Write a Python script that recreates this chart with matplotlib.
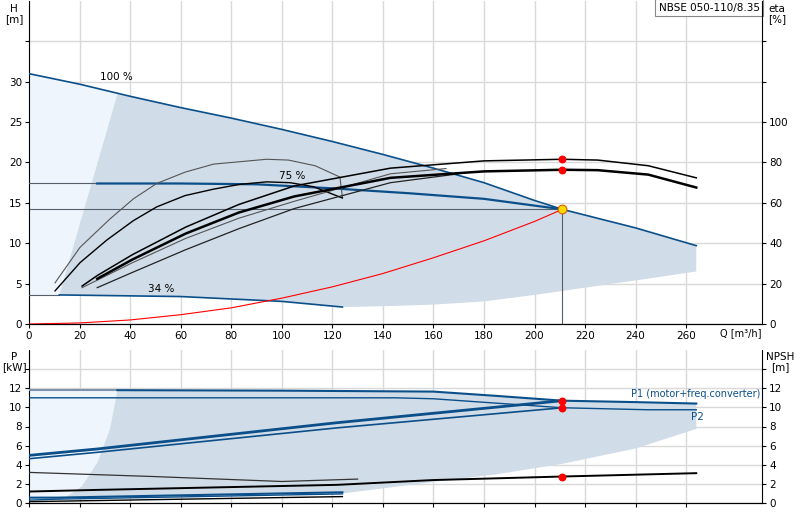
import matplotlib
matplotlib.use("Agg")
import matplotlib.pyplot as plt

plt.rcParams['font.family'] = ['DejaVu Sans']
plt.rcParams['font.size'] = 7.5

BLUE = "#0b4f8a"
DARK_FILL = "#d0dce7"
LIGHT_FILL = "#eef5fc"
GRID = "#d9d9d9"

# ---- head curves (Q [m3/h], H [m]) ----
h100_q = [0, 20, 40, 60, 80, 100, 120, 140, 160, 180, 200, 211, 240, 264]
h100_h = [31, 29.7, 28.2, 26.8, 25.5, 24.1, 22.6, 21.0, 19.3, 17.5, 15.3, 14.2, 11.9, 9.7]
h75_q = [27, 60, 90, 120, 150, 180, 211]
h75_h = [17.4, 17.4, 17.3, 16.8, 16.2, 15.5, 14.2]
h34_q = [12, 60, 100, 124]
h34_h = [3.6, 3.4, 2.8, 2.1]
sys_q = [0, 20, 40, 60, 80, 100, 120, 140, 160, 180, 200, 211]
sys_h = [0, 0.13, 0.5, 1.15, 2.0, 3.2, 4.6, 6.25, 8.2, 10.3, 12.7, 14.2]
low_q = [124, 140, 160, 180, 200, 220, 240, 264]
low_h = [2.1, 2.2, 2.4, 2.8, 3.6, 4.5, 5.4, 6.5]
edge_q = [12, 35]
edge_h = [3.6, 28.5]
duty_q, duty_h = 211, 14.2

# ---- efficiency curves (Q, eta [%]) ----
eta_a_q = [21, 27, 41, 62, 83, 105, 143, 180, 211, 225, 245, 264]
eta_a = [18.8, 24, 34.4, 48, 59.2, 68.4, 77.2, 80.8, 81.6, 81.2, 78.4, 72.4]
eta_b_q = [27, 41, 62, 83, 105, 143, 180, 211, 225, 245, 264]
eta_b = [22.4, 32, 44.8, 55.2, 63.2, 72.4, 75.6, 76.4, 76.2, 74, 67.6]
eta_c_q = [21, 41, 62, 83, 105, 143, 165]
eta_c = [18, 30.4, 42.4, 52.4, 60.8, 74.4, 77]
eta_d_q = [27, 41, 62, 83, 105, 143, 170]
eta_d = [18, 25.6, 36.8, 47.2, 57.2, 70, 74.4]
eta75_q = [10.3, 20.2, 30.8, 41.3, 50.5, 61.7, 73, 83.5, 94, 103.3, 112.6, 124]
eta75 = [16.4, 30.4, 41.6, 51.2, 58, 63.6, 66.8, 69.2, 70.4, 70, 68, 62.4]
eta75b_q = [10.3, 20.2, 32, 41.3, 50.5, 61.7, 73, 83.5, 94, 102.7, 113.2, 123, 124]
eta75b = [20.4, 38, 52, 62, 69.6, 75.2, 79.2, 80.4, 81.6, 81.2, 78.4, 72.8, 62.8]
eta_duty = [81.6, 76.4]

# ---- power / NPSH (Q, P [kW] or NPSH [m]) ----
p1max_q = [35, 100, 160, 185, 211, 240, 264]
p1max = [11.8, 11.75, 11.65, 11.2, 10.7, 10.55, 10.4]
p2max_q = [0, 100, 145, 160, 211, 245, 264]
p2max = [11.0, 11.0, 11.0, 10.9, 9.96, 9.75, 9.75]
p1op_q = [0, 27, 122, 211]
p1op = [4.98, 5.65, 8.4, 10.7]
p2op_q = [0, 27, 122, 211]
p2op = [4.63, 5.3, 7.86, 9.96]
npsh_q = [0, 27, 122, 160, 211, 264]
npsh = [1.2, 1.37, 1.9, 2.4, 2.77, 3.12]
npsh_top_q = [0, 49, 100, 130]
npsh_top = [3.2, 2.77, 2.25, 2.5]
p1_34_q = [0, 11, 124]
p1_34 = [0.56, 0.56, 1.12]
p2_34_q = [0, 11, 124]
p2_34 = [0.3, 0.4, 0.95]
npsh34_q = [0, 124]
npsh34 = [0.14, 0.67]
pedge_q = [12.7, 20.8, 27, 32, 35]
pedge = [0.3, 1.7, 4.2, 7.7, 11.8]
plow_q = [124, 160, 185, 211, 240, 264]
plow = [1.0, 2.2, 3.0, 4.1, 5.7, 7.75]
p_duty = [10.7, 9.96, 2.77]

W, H = 800, 520
fig = plt.figure(figsize=(8, 5.2), dpi=100)
ax = fig.add_axes([29 / W, 1 - 324 / H, (762 - 29) / W, 323 / H])
axe = ax.twinx()
bx = fig.add_axes([29 / W, 1 - 503 / H, (762 - 29) / W, (503 - 350) / H])
bxn = bx.twinx()

for a in (ax, bx):
    a.set_xlim(0, 290)
    a.set_xticks(range(0, 280, 20))
    a.grid(True, color=GRID, lw=1)
    a.set_axisbelow(True)
    for s in ("top", "right"):
        a.spines[s].set_visible(False)
    a.tick_params(length=3, pad=2)

# top panel fills
light_q = [0] + edge_q + [20, 0]
light_h = [3.6] + edge_h + [h100_h[1], h100_h[0]]
ax.fill(light_q, light_h, color=LIGHT_FILL, lw=0, zorder=1)
top_q = edge_q + [q for q in h100_q if q > 35] + low_q[::-1] + h34_q[::-1]
top_h = edge_h + [h for q, h in zip(h100_q, h100_h) if q > 35] + low_h[::-1] + h34_h[::-1]
ax.fill(top_q, top_h, color=DARK_FILL, lw=0, zorder=1)

ax.plot(h100_q, h100_h, color=BLUE, lw=1.2, zorder=3)
ax.plot([0, 27], [17.4, 17.4], color="#555f6b", lw=0.8, zorder=3)
ax.plot(h75_q, h75_h, color=BLUE, lw=1.6, zorder=3)
ax.plot([0, 12], [3.6, 3.6], color="#555f6b", lw=0.8, zorder=3)
ax.plot(h34_q, h34_h, color=BLUE, lw=1.2, zorder=3)
ax.plot([0, duty_q], [duty_h, duty_h], color="#555f6b", lw=0.8, zorder=2)
ax.plot([duty_q, duty_q], [0, duty_h], color="#555f6b", lw=0.8, zorder=2)
ax.plot(sys_q, sys_h, color="red", lw=0.8, zorder=3)
ax.scatter([duty_q], [duty_h], s=40, color="#ffd800", edgecolor="#e06000", lw=0.8, zorder=6)

ax.set_ylim(0, 40)
ax.set_yticks(range(0, 40, 5))
ax.set_yticklabels([str(v) for v in range(0, 35, 5)] + [""])
ax.text(28, 30.2, "100 %", fontsize=7.5)
ax.text(99, 17.9, "75 %", fontsize=7.5)
ax.text(47, 4.0, "34 %", fontsize=7.5)

axe.set_ylim(0, 160)
axe.set_yticks(range(0, 160, 20))
axe.set_yticklabels([str(v) for v in range(0, 120, 20)] + ["", ""])
axe.tick_params(length=3, pad=2)
for s in ("top", "left"):
    axe.spines[s].set_visible(False)
axe.plot(eta75b_q, eta75b, color="#555555", lw=0.8, zorder=4)
axe.plot(eta75_q, eta75, color="black", lw=1.0, zorder=4)
axe.plot(eta_c_q, eta_c, color="#555555", lw=0.8, zorder=4)
axe.plot(eta_d_q, eta_d, color="#222222", lw=0.9, zorder=4)
axe.plot(eta_a_q, eta_a, color="black", lw=1.1, zorder=4)
axe.plot(eta_b_q, eta_b, color="black", lw=1.8, zorder=4)
axe.scatter([duty_q, duty_q], eta_duty, s=22, color="red", zorder=6)

ax.set_xticklabels([str(v) for v in range(0, 280, 20)])
fig.text(720 / W, 1 - 333 / H, "Q [m³/h]", fontsize=7, va="center")
fig.text(14 / W, 1 - 14 / H, "H\n[m]", fontsize=7.5, ha="center", va="center", linespacing=1.1)
fig.text(777 / W, 1 - 14 / H, "eta\n[%]", fontsize=7.5, ha="center", va="center", linespacing=1.1)
ax.text(0.997, 0.995, "NBSE 050-110/8.35", transform=ax.transAxes, ha="right", va="top",
        fontsize=7.5, bbox=dict(boxstyle="square,pad=0.35", fc="white", ec="#888888", lw=0.8), zorder=10)

# bottom panel
bx.fill([0] + pedge_q + [0], [0.3] + pedge + [11.8], color=LIGHT_FILL, lw=0, zorder=1)
bq = pedge_q + p1max_q[1:] + plow_q[::-1] + [11]
bp = pedge + p1max[1:] + plow[::-1] + [0.56]
bx.fill(bq, bp, color=DARK_FILL, lw=0, zorder=1)
bx.plot([0, 35], [11.8, 11.8], color="#7f93a8", lw=1.5, zorder=3)
bx.plot(p1max_q, p1max, color=BLUE, lw=1.5, zorder=3)
bx.plot(p2max_q, p2max, color=BLUE, lw=1.0, zorder=3)
bx.plot(p1op_q, p1op, color=BLUE, lw=2.0, zorder=3)
bx.plot(p2op_q, p2op, color=BLUE, lw=1.2, zorder=3)
bx.plot(p1_34_q, p1_34, color=BLUE, lw=1.5, zorder=3)
bx.plot(p2_34_q, p2_34, color=BLUE, lw=1.0, zorder=3)
bx.plot(npsh_q, npsh, color="black", lw=1.4, zorder=3)
bx.plot(npsh_top_q, npsh_top, color="#333333", lw=0.9, zorder=3)
bx.plot(npsh34_q, npsh34, color="black", lw=1.0, zorder=3)
bx.scatter([duty_q] * 3, p_duty, s=22, color="red", zorder=6)
bx.set_ylim(0, 16)
bx.set_yticks(range(0, 16, 2))
bx.set_yticklabels([str(v) for v in range(0, 14, 2)] + [""])
bx.set_xticklabels([])
bx.text(238, 11.1, "P1 (motor+freq.converter)", color=BLUE, fontsize=7)
bx.text(262, 8.7, "P2", color=BLUE, fontsize=7.5)

bxn.set_ylim(0, 16)
bxn.set_yticks(range(0, 16, 2))
bxn.set_yticklabels([str(v) for v in range(0, 14, 2)] + [""])
bxn.tick_params(length=3, pad=2)
for s in ("top", "left"):
    bxn.spines[s].set_visible(False)
fig.text(14 / W, 1 - 362 / H, "P\n[kW]", fontsize=7.5, ha="center", va="center", linespacing=1.1)
fig.text(780 / W, 1 - 362 / H, "NPSH\n[m]", fontsize=7.5, ha="center", va="center", linespacing=1.1)

fig.savefig("out.png", dpi=100)
